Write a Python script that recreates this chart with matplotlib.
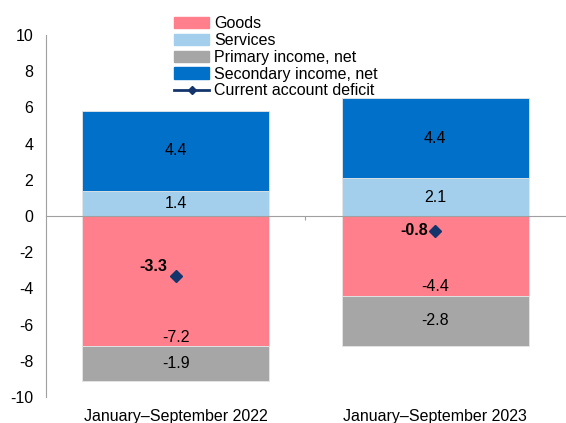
import matplotlib
matplotlib.use('Agg')
import matplotlib.pyplot as plt
from matplotlib.lines import Line2D
from matplotlib.patches import Patch
import numpy as np

plt.rcParams['font.family'] = ['Liberation Sans', 'DejaVu Sans']
plt.rcParams['axes.unicode_minus'] = False

periods = ['January\u2013September 2022', 'January\u2013September 2023']
goods = [-7.2, -4.4]
services = [1.4, 2.1]
primary = [-1.9, -2.8]
secondary = [4.4, 4.4]
current_account = [-3.3, -0.8]

c_goods = '#FF7F8C'
c_serv = '#A3CFEC'
c_prim = '#A6A6A6'
c_sec = '#0070C9'
c_ca = '#14356B'

fig = plt.figure(figsize=(5.66, 4.23), dpi=100)
ax = fig.add_axes([0.081, 0.0615, 0.917, 0.8555])

x = np.arange(len(periods))
w = 0.72
goods = np.array(goods)
services = np.array(services)
primary = np.array(primary)
secondary = np.array(secondary)

ax.bar(x, goods, w, color=c_goods, edgecolor='#e6e6e6', linewidth=0.6, zorder=2)
ax.bar(x, primary, w, bottom=goods, color=c_prim, edgecolor='#e6e6e6', linewidth=0.6, zorder=2)
ax.bar(x, services, w, color=c_serv, edgecolor='#e6e6e6', linewidth=0.6, zorder=2)
ax.bar(x, secondary, w, bottom=services, color=c_sec, edgecolor='#e6e6e6', linewidth=0.6, zorder=2)
ax.plot(x, current_account, linestyle='none', marker='D', markersize=6,
        color=c_ca, zorder=4)

fs = 11.5
for i in x:
    ax.text(i, goods[i] + 0.5, f'{goods[i]:.1f}', ha='center', va='center', fontsize=fs, zorder=5)
    ax.text(i, goods[i] + primary[i] / 2, f'{primary[i]:.1f}', ha='center', va='center', fontsize=fs, zorder=5)
    ax.text(i, services[i] / 2, f'{services[i]:.1f}', ha='center', va='center', fontsize=fs, zorder=5)
    ax.text(i, services[i] + secondary[i] / 2, f'{secondary[i]:.1f}', ha='center', va='center', fontsize=fs, zorder=5)

offsets = [(-6, 7), (-5, 0)]
for i in x:
    ax.annotate(f'{current_account[i]:.1f}', (i, current_account[i]), xytext=offsets[i],
                textcoords='offset points', ha='right', va='center',
                fontsize=fs, fontweight='bold', zorder=5)

ax.set_xlim(-0.5, 1.5)
ax.set_ylim(-10, 10)
ax.set_yticks(range(-10, 11, 2))
ax.tick_params(axis='y', length=0, pad=9, labelsize=fs)

for s in ['top', 'right']:
    ax.spines[s].set_visible(False)
ax.spines['left'].set_color('#A0A0A0')
ax.spines['bottom'].set_color('#A0A0A0')
ax.spines['bottom'].set_position(('data', 0))
ax.spines['bottom'].set_zorder(3)
ax.set_xticks([0.5])
ax.set_xticklabels([''])
ax.tick_params(axis='x', length=3, color='#A0A0A0', direction='out')

for i in x:
    ax.annotate(periods[i], (i, -10), xytext=(0, -9), textcoords='offset points',
                ha='center', va='top', fontsize=fs, annotation_clip=False)

handles = [Patch(color=c_goods), Patch(color=c_serv), Patch(color=c_prim), Patch(color=c_sec),
           Line2D([0], [0], color=c_ca, lw=2, marker='D', markersize=4)]
names = ['Goods', 'Services', 'Primary income, net', 'Secondary income, net', 'Current account deficit']
fig.legend(handles, names, loc='upper left', bbox_to_anchor=(0.2876, 0.988), frameon=False,
           fontsize=fs, handlelength=2.2, handleheight=0.7, labelspacing=0.11,
           handletextpad=0.3, borderpad=0.2)

fig.savefig('out.png', dpi=100)
